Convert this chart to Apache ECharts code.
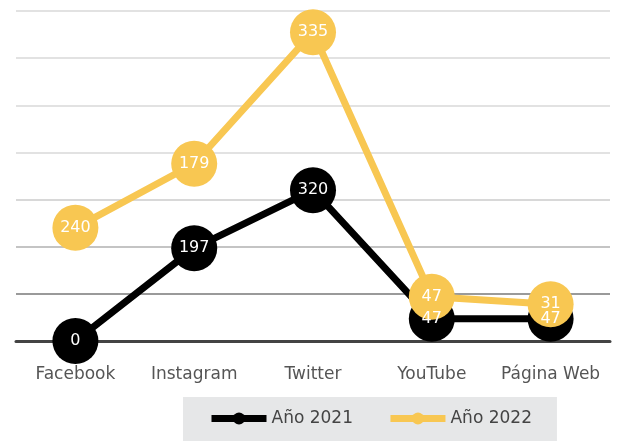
<!DOCTYPE html>
<html>
<head>
<meta charset="utf-8">
<script src="https://cdn.jsdelivr.net/npm/echarts@6/dist/echarts.min.js"></script>
<style>
  html, body { margin: 0; padding: 0; background: #fff; }
  #chart { width: 633px; height: 441px; }
</style>
</head>
<body>
<div id="chart"></div>
<script>
const categories = ['Facebook', 'Instagram', 'Twitter', 'YouTube', 'Página Web']
const values2021 = [0, 197, 320, 47, 47]
const values2022 = [240, 179, 335, 47, 31]

const font = '"DejaVu Sans", sans-serif'

const myChart = echarts.init(document.getElementById('chart'))

// y axis lines go darker toward the bottom
const gridColors = ['#444444', '#9a9a9a', '#c4c4c4', '#d8d8d8', '#e2e2e2', '#e2e2e2', '#e2e2e2', '#e2e2e2']

const option = {
  animation: false,
  grid: { left: 16, right: 23, top: 11, bottom: 100, containLabel: false },
  legend: {
    data: ['Año 2021', 'Año 2022'],
    left: 183,
    top: 397,
    backgroundColor: '#e6e7e8',
    padding: [13, 25, 14, 25],
    itemWidth: 55,
    itemHeight: 15,
    itemGap: 34,
    lineStyle: { width: 7 },
    textStyle: { color: '#444', fontSize: 17, fontFamily: font }
  },
  xAxis: {
    type: 'category',
    data: categories,
    axisLine: { lineStyle: { color: '#444', width: 3 } },
    axisTick: { show: false },
    axisLabel: { interval: 0, color: '#555', fontSize: 17, fontFamily: font, margin: 25 }
  },
  yAxis: {
    type: 'value',
    min: 0,
    max: 700,
    interval: 100,
    axisLabel: { show: false },
    splitLine: { lineStyle: { color: gridColors, width: 2 } }
  },
  series: [
    {
      name: 'Año 2021',
      type: 'line',
      stack: 'total',
      data: values2021,
      symbol: 'circle',
      symbolSize: 46,
      color: '#000000',
      lineStyle: { width: 7, color: '#000000' },
      label: { show: true, position: 'inside', color: '#fff', fontSize: 16, fontFamily: font }
    },
    {
      name: 'Año 2022',
      type: 'line',
      stack: 'total',
      data: values2022,
      symbol: 'circle',
      symbolSize: 46,
      color: '#f8c752',
      lineStyle: { width: 7, color: '#f8c752' },
      label: { show: true, position: 'inside', color: '#fff', fontSize: 16, fontFamily: font }
    }
  ]
}

myChart.setOption(option)
</script>
</body>
</html>
